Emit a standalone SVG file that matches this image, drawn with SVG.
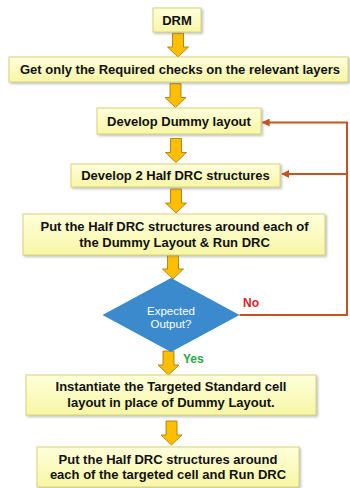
<svg xmlns="http://www.w3.org/2000/svg" width="350" height="488" viewBox="0 0 350 488">
  <style>
    .box { fill: url(#boxFill); stroke: #D6D47A; stroke-width: 1; filter: url(#shadow); }
    .lbl { font-family: "Liberation Sans", Arial, sans-serif; font-size: 13px; font-weight: bold; fill: #111; text-anchor: middle; }
    .dlbl { font-family: "Liberation Sans", Arial, sans-serif; font-size: 11.5px; fill: #FFFFFF; text-anchor: middle; }
    .flow { fill: #FFBF00; stroke: #9A7400; stroke-width: 0.8; }
    .loop { fill: none; stroke: #C9531F; stroke-width: 2; }
    .yes { font-family: "Liberation Sans", Arial, sans-serif; font-size: 12px; font-weight: bold; fill: #2BA84A; }
    .no { font-family: "Liberation Sans", Arial, sans-serif; font-size: 12px; font-weight: bold; fill: #E0201E; }
  </style>
  <defs>
    <linearGradient id="boxFill" x1="0" y1="0" x2="0" y2="1">
      <stop offset="0" stop-color="#FFFFDC"/>
      <stop offset="1" stop-color="#F8F6A4"/>
    </linearGradient>
    <filter id="shadow" x="-5%" y="-20%" width="115%" height="150%">
      <feDropShadow dx="1.5" dy="1.5" stdDeviation="1" flood-color="#808080" flood-opacity="0.5"/>
    </filter>
    <marker id="arrowHead" viewBox="0 0 10 10" refX="9" refY="5" markerWidth="4" markerHeight="4" orient="auto" markerUnits="strokeWidth">
      <path d="M0,0 L10,5 L0,10 Z" fill="#C9531F"/>
    </marker>
    <!-- block arrow pointing down, origin at shaft top centre, length 24 -->
    <path id="blockArrow" d="M-5.5,0 H5.5 V14 H10.5 L0,24 L-10.5,14 H-5.5 Z"/>
  </defs>

  <!-- connectors -->
  <g id="connectors">
    <use href="#blockArrow" class="flow" transform="translate(178,33)"/>
    <use href="#blockArrow" class="flow" transform="translate(175.5,83.5)"/>
    <use href="#blockArrow" class="flow" transform="translate(176,138.5)"/>
    <use href="#blockArrow" class="flow" transform="translate(176,189)"/>
    <use href="#blockArrow" class="flow" transform="translate(173,255)"/>
    <use href="#blockArrow" class="flow" transform="translate(168.5,351)"/>
    <use href="#blockArrow" class="flow" transform="translate(171.5,421)"/>
    <path class="loop" d="M239.5,315 H347 V122.5 H262.5" marker-end="url(#arrowHead)"/>
    <path class="loop" d="M347,174 H282" marker-end="url(#arrowHead)"/>
    <text class="no" x="243" y="306.5">No</text>
    <text class="yes" x="183" y="362.5">Yes</text>
  </g>

  <g id="drm">
    <rect class="box" x="153" y="8" width="48" height="24"/>
    <text class="lbl" x="177" y="24.5">DRM</text>
  </g>

  <g id="get-checks">
    <rect class="box" x="9" y="57" width="339" height="25"/>
    <text class="lbl" x="180" y="74">Get only the Required checks on the relevant layers</text>
  </g>

  <g id="dummy-layout">
    <rect class="box" x="97" y="108" width="164" height="26"/>
    <text class="lbl" x="179" y="126">Develop Dummy layout</text>
  </g>

  <g id="half-drc">
    <rect class="box" x="71" y="164" width="209" height="23"/>
    <text class="lbl" x="175.5" y="180">Develop 2 Half DRC structures</text>
  </g>

  <g id="run-drc-dummy">
    <rect class="box" x="23" y="214" width="302" height="41"/>
    <text class="lbl" x="174.5" y="231">Put the Half DRC structures around each of</text>
    <text class="lbl" x="174.5" y="247">the Dummy Layout &amp; Run DRC</text>
  </g>

  <g id="expected-output">
    <polygon points="171,278 239.5,315 171,352 102.5,315" fill="#3A8ACD"/>
    <text class="dlbl" x="171" y="314.5">Expected</text>
    <text class="dlbl" x="171" y="327.5">Output?</text>
  </g>

  <g id="instantiate">
    <rect class="box" x="26" y="375" width="290" height="40"/>
    <text class="lbl" x="171" y="391">Instantiate the Targeted Standard cell</text>
    <text class="lbl" x="171" y="406.5">layout in place of Dummy Layout.</text>
  </g>

  <g id="run-drc-target">
    <rect class="box" x="37" y="447" width="262" height="40"/>
    <text class="lbl" x="168" y="463.5">Put the Half DRC structures around</text>
    <text class="lbl" x="168" y="479">each of the targeted cell and Run DRC</text>
  </g>
</svg>
